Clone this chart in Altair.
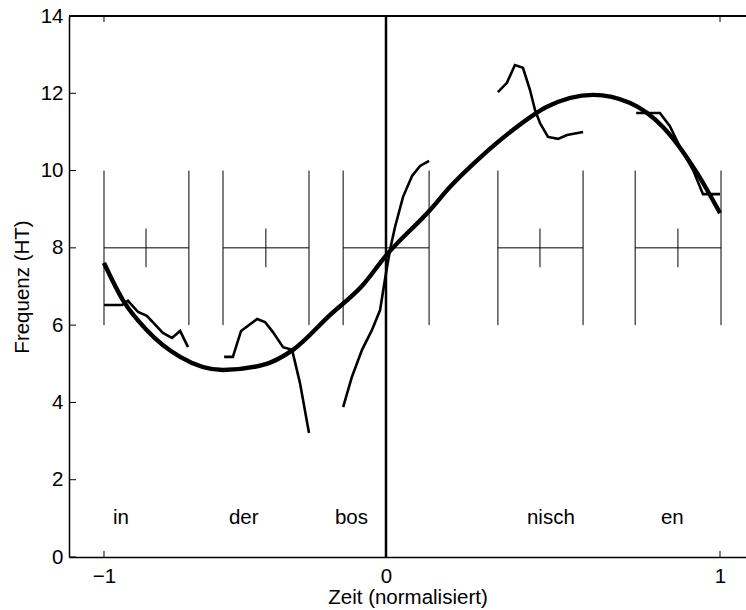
import altair as alt
import pandas as pd

# ---- syllable frames (normalised time) ----
syllables = ["in", "der", "bos", "nisch", "en"]
box_left = [-1.0, -0.578, -0.152, 0.335, 0.746]
box_right = [-0.699, -0.273, 0.129, 0.590, 1.003]
box_mid = [-0.851, -0.426, 0.0, 0.461, 0.874]
label_x = [-0.968, -0.557, -0.181, 0.422, 0.823]
label_y = [1, 1, 1, 1, 1]

# ---- F0 contours per syllable ----
in_t = [-1.0, -0.936, -0.915, -0.879, -0.848, -0.791, -0.759, -0.730, -0.702]
in_f = [6.52, 6.52, 6.63, 6.34, 6.24, 5.80, 5.67, 5.85, 5.43]
der_t = [-0.574, -0.543, -0.514, -0.457, -0.429, -0.401, -0.365, -0.333, -0.305, -0.273]
der_f = [5.18, 5.18, 5.85, 6.16, 6.08, 5.82, 5.43, 5.36, 4.50, 3.21]
bos_t = [-0.152, -0.121, -0.085, -0.050, -0.021, -0.004, 0.012, 0.027, 0.051, 0.078, 0.102, 0.129]
bos_f = [3.88, 4.66, 5.36, 5.87, 6.39, 7.17, 7.95, 8.54, 9.32, 9.86, 10.12, 10.25]
nisch_t = [0.335, 0.362, 0.386, 0.410, 0.431, 0.446, 0.461, 0.485, 0.515, 0.542, 0.590]
nisch_f = [12.03, 12.27, 12.73, 12.66, 12.09, 11.57, 11.23, 10.87, 10.82, 10.92, 11.00]
en_t = [0.749, 0.820, 0.850, 0.880, 0.919, 0.949, 1.0]
en_f = [11.49, 11.49, 11.15, 10.61, 10.02, 9.39, 9.39]

# ---- fitted curve ----
fit_t = [-1.0, -0.933, -0.848, -0.730, -0.578, -0.436, -0.330, -0.199, -0.082, 0.0,
         0.132, 0.192, 0.281, 0.380, 0.482, 0.620, 0.731, 0.829, 0.931, 1.0]
fit_f = [7.61, 6.65, 5.87, 5.18, 4.84, 4.97, 5.36, 6.26, 7.04, 7.80,
         8.98, 9.58, 10.33, 11.05, 11.65, 11.96, 11.75, 11.13, 9.94, 8.90]

# ---- axes ----
x_ticks = [-1, 0, 1]
y_ticks = [0, 2, 4, 6, 8, 10, 12, 14]
x_domain = [-1.1241, 0, 1.0778]
y_domain = [0, 14]

W, H = 677, 541
FONT = "Liberation Sans"
FS = 20.5

xs = alt.Scale(domain=x_domain, range=[0, 317, W], nice=False, zero=False)
ys = alt.Scale(domain=y_domain, nice=False, zero=False)

boxes = pd.DataFrame({"syl": syllables, "left": box_left, "right": box_right,
                      "mid": box_mid})
labels = pd.DataFrame({"syl": syllables, "x": label_x, "y": label_y})

rows = []
for name, ts, fs in [("in", in_t, in_f), ("der", der_t, der_f), ("bos", bos_t, bos_f),
                     ("nisch", nisch_t, nisch_f), ("en", en_t, en_f)]:
    for i, (t, f) in enumerate(zip(ts, fs)):
        rows.append({"syl": name, "t": t, "f": f, "i": i})
contours = pd.DataFrame(rows)
fit = pd.DataFrame({"t": fit_t, "f": fit_f, "i": list(range(len(fit_t)))})

xaxis = alt.Axis(values=x_ticks, labelPadding=9, ticks=False, tickSize=0,
                 labelExpr="datum.value < 0 ? '\u22121' : format(datum.value, 'd')",
                 title="Zeit (normalisiert)", titlePadding=1)
yaxis = alt.Axis(values=y_ticks, labelPadding=6, ticks=False, tickSize=0,
                 title="Frequenz (HT)", titlePadding=8)

base_box = alt.Chart(boxes)
vl = base_box.mark_rule(color="black", strokeWidth=1).encode(
    x=alt.X("left:Q", scale=xs, axis=xaxis),
    y=alt.datum(6, scale=ys, axis=yaxis), y2=alt.datum(10))
vr = base_box.mark_rule(color="black", strokeWidth=1).encode(
    x=alt.X("right:Q", scale=xs), y=alt.datum(6), y2=alt.datum(10))
hz = base_box.mark_rule(color="black", strokeWidth=1).encode(
    x=alt.X("left:Q", scale=xs), x2="right:Q", y=alt.datum(8))
md = base_box.mark_rule(color="black", strokeWidth=1).encode(
    x=alt.X("mid:Q", scale=xs), y=alt.datum(7.5), y2=alt.datum(8.5))

cont = alt.Chart(contours).mark_line(color="black", strokeWidth=2.6,
                                     strokeJoin="miter").encode(
    x=alt.X("t:Q", scale=xs), y=alt.Y("f:Q", scale=ys), detail="syl:N",
    order="i:Q")
fitl = alt.Chart(fit).mark_line(color="black", strokeWidth=4.4,
                                interpolate="monotone").encode(
    x=alt.X("t:Q", scale=xs), y=alt.Y("f:Q", scale=ys), order="i:Q")

zero = alt.Chart(pd.DataFrame({"t": [0]})).mark_rule(color="black", strokeWidth=2.5).encode(
    x=alt.X("t:Q", scale=xs), y=alt.datum(0), y2=alt.datum(14))

txt = alt.Chart(labels).mark_text(align="left", baseline="middle", font=FONT,
                                  fontSize=FS, color="black").encode(
    x=alt.X("x:Q", scale=xs), y=alt.Y("y:Q", scale=ys), text="syl:N")

# inward ticks
xt = pd.DataFrame({"t": x_ticks})
yt = pd.DataFrame({"f": y_ticks})
tick_bot = alt.Chart(xt).mark_rule(color="black", strokeWidth=1).encode(
    x=alt.X("t:Q", scale=xs), y=alt.value(H), y2=alt.value(H - 6))
tick_top = alt.Chart(xt).mark_rule(color="black", strokeWidth=1).encode(
    x=alt.X("t:Q", scale=xs), y=alt.value(0), y2=alt.value(6))
tick_left = alt.Chart(yt).mark_rule(color="black", strokeWidth=1).encode(
    y=alt.Y("f:Q", scale=ys), x=alt.value(0), x2=alt.value(7))
top_line = alt.Chart(xt).mark_rule(color="black", strokeWidth=1.5).encode(
    x=alt.value(0), x2=alt.value(W), y=alt.value(0))

chart = alt.layer(vl, vr, hz, md, cont, fitl, zero, txt,
                  tick_bot, tick_top, tick_left, top_line).properties(
    width=W, height=H,
    autosize=alt.AutoSizeParams(type="none"),
    padding={"left": 69, "top": 16, "right": 0, "bottom": 53},
    background="white",
).configure_view(stroke=None).configure_axis(
    ticks=False, tickSize=0, grid=False, labelFont=FONT, labelFontSize=FS,
    labelColor="black", titleFont=FONT, titleFontSize=FS,
    titleFontWeight="normal", titleColor="black",
    domainColor="black", domainWidth=1.5,
)

chart.save("out.html", embed_options={"renderer": "svg", "actions": False})
